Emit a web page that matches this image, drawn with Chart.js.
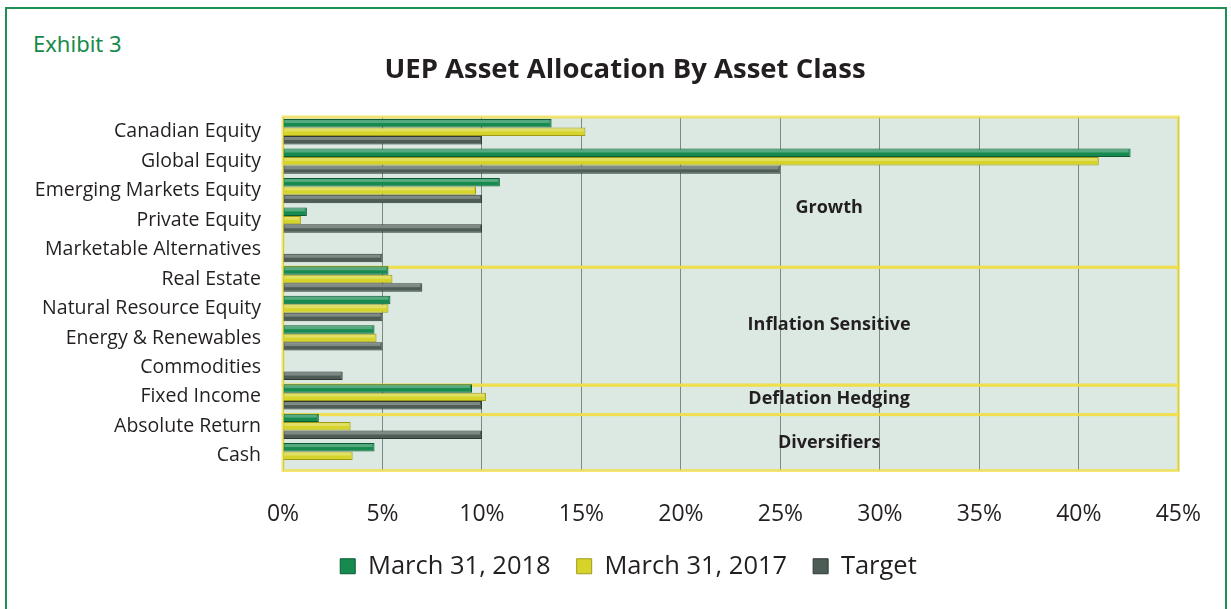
<!DOCTYPE html>
<html>
<head>
<meta charset="utf-8">
<script src="https://cdn.jsdelivr.net/npm/chart.js@4/dist/chart.umd.min.js"></script>
<style>
  html, body { margin: 0; padding: 0; background: #fff; overflow: hidden; }
  #frame { position: absolute; left: 5px; top: 7px; width: 1222px; height: 640px; border: 2px solid #1f8f55; box-sizing: border-box; }
  #exhibit { position: absolute; left: 33px; top: 32px; font: 22px/22px "Noto Sans", sans-serif; color: #178a4b; }
  #c { position: absolute; left: 0; top: 0; }
</style>
</head>
<body>
<div id="frame"></div>
<div id="exhibit">Exhibit 3</div>
<canvas id="c" width="1231" height="609"></canvas>
<script>
/* Chart data */
const chartTitle = 'UEP Asset Allocation By Asset Class';
const categories = ["Canadian Equity", "Global Equity", "Emerging Markets Equity", "Private Equity",
  "Marketable Alternatives", "Real Estate", "Natural Resource Equity", "Energy & Renewables",
  "Commodities", "Fixed Income", "Absolute Return", "Cash"];
const march2018 = [13.5, 42.6, 10.9, 1.2, 0, 5.3, 5.4, 4.6, 0, 9.5, 1.8, 4.6];
const march2017 = [15.2, 41.0, 9.7, 0.9, 0, 5.5, 5.3, 4.7, 0, 10.2, 3.4, 3.5];
const target = [10, 25, 10, 10, 5, 7, 5, 5, 3, 10, 10, 0];
const xTicks = [0, 5, 10, 15, 20, 25, 30, 35, 40, 45];

/* Asset class groups (first and last category index) */
const groupNames = ["Growth", "Inflation Sensitive", "Deflation Hedging", "Diversifiers"];
const groupFirst = [0, 5, 9, 10];
const groupLast = [4, 8, 9, 11];
const groupLabelRow = [2.5, 6.5, 9, 10.5];

/* Plot background, group boxes, labels and title */
const groupBands = {
  id: 'groupBands',
  afterLayout(chart) {
    // the legend sits a little right of the canvas centre in the original
    chart.legend.left += 28;
    chart.legend.right += 28;
  },
  beforeDraw(chart) {
    const {ctx, chartArea: a} = chart;
    ctx.save();
    ctx.fillStyle = '#dbe9e2';
    ctx.fillRect(a.left, a.top, a.right - a.left, a.bottom - a.top);
    ctx.fillStyle = '#231f20';
    ctx.font = 'bold 27.5px "Open Sans", sans-serif';
    ctx.textAlign = 'center';
    ctx.textBaseline = 'middle';
    ctx.fillText(chartTitle, 625, 70);
    ctx.restore();
  },
  beforeDatasetsDraw(chart) {
    const {ctx, chartArea: a, scales} = chart;
    const y = scales.y;
    ctx.save();
    ctx.strokeStyle = 'rgba(240, 222, 70, 0.75)';
    ctx.lineWidth = 3;
    groupNames.forEach((name, i) => {
      const top = i === 0 ? a.top : y.getPixelForValue(groupFirst[i] - 0.5) + 3;
      const bottom = i === groupNames.length - 1 ? a.bottom : y.getPixelForValue(groupLast[i] + 0.5) + 3;
      ctx.strokeRect(a.left, top, a.right - a.left, bottom - top);
    });
    ctx.fillStyle = '#231f20';
    ctx.font = 'bold 18px "Open Sans", sans-serif';
    ctx.textAlign = 'center';
    ctx.textBaseline = 'middle';
    const cx = a.left + (a.right - a.left) * 0.61;
    groupNames.forEach((name, i) => {
      ctx.fillText(name, cx, y.getPixelForValue(groupLabelRow[i]) + 2);
    });
    ctx.restore();
  },
  // light top strip on each bar for the bevelled look
  afterDatasetsDraw(chart) {
    const {ctx} = chart;
    ctx.save();
    chart.data.datasets.forEach((ds, i) => {
      chart.getDatasetMeta(i).data.forEach(bar => {
        const w = bar.x - bar.base;
        if (w < 2) return;
        const top = bar.y - bar.height / 2;
        ctx.fillStyle = 'rgba(255, 255, 255, 0.28)';
        ctx.fillRect(bar.base + 1, top + 1, w - 3, bar.height * 0.35);
      });
    });
    ctx.restore();
  }
};

const ctx = document.getElementById('c');
new Chart(ctx, {
  type: 'bar',
  data: {
    labels: categories,
    datasets: [
      { label: 'March 31, 2018', data: march2018, backgroundColor: '#168a4f', borderColor: '#0d5a33', borderWidth: 1 },
      { label: 'March 31, 2017', data: march2017, backgroundColor: '#d6d42a', borderColor: '#9e9b1a', borderWidth: 1 },
      { label: 'Target', data: target, backgroundColor: '#4e5c56', borderColor: '#2e3934', borderWidth: 1 }
    ]
  },
  options: {
    indexAxis: 'y',
    responsive: false,
    animation: false,
    categoryPercentage: 0.86,
    barPercentage: 1.0,
    layout: { padding: { left: 20, right: 50, top: 117, bottom: 20 } },
    plugins: {
      title: { display: false },
      legend: {
        position: 'bottom',
        labels: {
          color: '#231f20',
          font: { family: '"Open Sans", sans-serif', size: 25.5 },
          boxWidth: 15,
          boxHeight: 15,
          padding: 26
        }
      },
      tooltip: { enabled: false }
    },
    scales: {
      x: {
        min: 0,
        max: 45,
        afterBuildTicks: s => { s.ticks = xTicks.map(v => ({ value: v })); },
        afterFit: s => { s.height = 57; },
        grid: { color: '#7d8a84', lineWidth: 1, drawTicks: false },
        border: { display: false },
        ticks: {
          padding: 30,
          color: '#231f20',
          font: { family: '"Open Sans", sans-serif', size: 23 },
          callback: v => v + '%'
        }
      },
      y: {
        afterFit: s => { s.width = 263; },
        grid: { display: false },
        border: { display: false },
        ticks: {
          padding: 14,
          color: '#231f20',
          font: { family: '"Open Sans", sans-serif', size: 19.5 }
        }
      }
    }
  },
  plugins: [groupBands]
});
</script>
</body>
</html>
